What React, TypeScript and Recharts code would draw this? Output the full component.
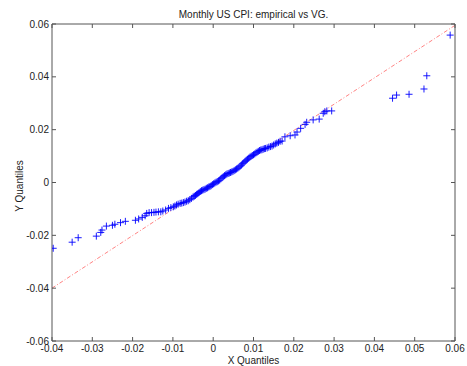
import { ScatterChart, Scatter, XAxis, YAxis, ReferenceLine } from "recharts";

// empirical quantiles (x) vs VG quantiles (y)
const QX = [
  -0.0397, -0.035, -0.0335, -0.029, -0.0279, -0.0276, -0.0265, -0.025, -0.0244, -0.023,
  -0.0218, -0.0193, -0.0185, -0.0176, -0.0169, -0.0165, -0.0159, -0.0153, -0.0147, -0.0142,
  -0.0136, -0.013, -0.0125, -0.0118, -0.0111, -0.0105, -0.0099, -0.0095, -0.0091, -0.0087,
  -0.0082, -0.0078, -0.0074, -0.007, -0.0066, -0.0062, -0.0058, -0.0054,
  -0.005, -0.0047, -0.0044, -0.0041, -0.0038, -0.0035, -0.0032, -0.0029, -0.0026, -0.0023,
  -0.002, -0.0017, -0.0014, -0.0011, -0.0008, -0.0005, -0.0002, 0.0001, 0.0004, 0.0007,
  0.001, 0.0013, 0.0016, 0.0019, 0.0022, 0.0025, 0.0028, 0.0031, 0.0034, 0.0037,
  0.004, 0.0043, 0.0046, 0.0049, 0.0052, 0.0055, 0.0058, 0.0061, 0.0064, 0.0067,
  0.007, 0.0073, 0.0076, 0.0079, 0.0082, 0.0085, 0.0088, 0.0091, 0.0094, 0.0097,
  0.01, 0.0103, 0.0106, 0.0109, 0.0112, 0.0115, 0.0118, 0.0121, 0.0124, 0.0127,
  0.013, 0.0134, 0.0138, 0.0142, 0.0146, 0.015, 0.0154, 0.0158, 0.0162, 0.0166,
  0.0171, 0.0178, 0.0191, 0.0203, 0.0208, 0.0217, 0.0228, 0.0232, 0.0248, 0.0263,
  0.0273, 0.0277, 0.0282, 0.0294, 0.0445, 0.0455, 0.0486, 0.0523, 0.053, 0.0588,
];
const QY = [
  -0.0249, -0.0226, -0.0209, -0.0203, -0.0189, -0.018, -0.0165, -0.0162, -0.0158, -0.0152,
  -0.0147, -0.0143, -0.0138, -0.0132, -0.0126, -0.0117, -0.0114, -0.0114, -0.0113, -0.0112,
  -0.0111, -0.0111, -0.0108, -0.0104, -0.0098, -0.0095, -0.0092, -0.0089, -0.0085, -0.0082,
  -0.0079, -0.0078, -0.0076, -0.0074, -0.0071, -0.0069, -0.0065, -0.006,
  -0.0055, -0.0052, -0.0049, -0.0045, -0.0042, -0.0038, -0.0034, -0.0031, -0.0029, -0.0027,
  -0.0025, -0.0022, -0.002, -0.0017, -0.0015, -0.0012, -0.0008, -0.0005, -0.0002, 0.0001,
  0.0003, 0.0006, 0.0009, 0.0014, 0.0018, 0.0022, 0.0026, 0.0029, 0.0032, 0.0034,
  0.0036, 0.0038, 0.004, 0.0042, 0.0045, 0.0048, 0.0051, 0.0054, 0.0058, 0.0062,
  0.0066, 0.0071, 0.0075, 0.008, 0.0084, 0.0088, 0.0092, 0.0096, 0.0099, 0.0102,
  0.0105, 0.0108, 0.0112, 0.0115, 0.0118, 0.0121, 0.0123, 0.0124, 0.0126, 0.0128,
  0.0129, 0.0131, 0.0134, 0.0136, 0.0138, 0.0142, 0.0146, 0.0149, 0.0152, 0.0156,
  0.0157, 0.0173, 0.0177, 0.018, 0.0191, 0.0205, 0.022, 0.0228, 0.0237, 0.024,
  0.0262, 0.0268, 0.0271, 0.0271, 0.0319, 0.0331, 0.0334, 0.0354, 0.0404, 0.0558,
];

// dash-dot reference line endpoints
const REF_X = [-0.04, 0.06];
const REF_Y = [-0.04, 0.0595];

const X_TICKS = [-0.04, -0.03, -0.02, -0.01, 0, 0.01, 0.02, 0.03, 0.04, 0.05, 0.06];
const Y_TICKS = [-0.06, -0.04, -0.02, 0, 0.02, 0.04, 0.06];

const points = QX.map((x, i) => ({ x, y: QY[i] }));

const AXIS = "#555";
const FONT = "'Liberation Sans', Arial, sans-serif";
const fmt = (v: number) => (v === 0 ? "0" : v.toFixed(2));

const BottomTick = ({ x, y, payload }: any) => (
  <g>
    <line x1={x} y1={y} x2={x} y2={y - 4} stroke={AXIS} />
    <text x={x} y={y + 11} textAnchor="middle" fontSize={10} fontFamily={FONT} fill="#222">
      {fmt(payload.value)}
    </text>
  </g>
);
const TopTick = ({ x, y }: any) => <line x1={x} y1={y} x2={x} y2={y + 4} stroke={AXIS} />;
const LeftTick = ({ x, y, payload }: any) => (
  <g>
    <line x1={x} y1={y} x2={x + 4} y2={y} stroke={AXIS} />
    <text x={x - 3} y={y + 3.5} textAnchor="end" fontSize={10} fontFamily={FONT} fill="#222">
      {fmt(payload.value)}
    </text>
  </g>
);
const RightTick = ({ x, y }: any) => <line x1={x} y1={y} x2={x - 4} y2={y} stroke={AXIS} />;

const Plus = (p: any) => (
  <g stroke="#0000ff" strokeWidth={0.9}>
    <line x1={p.cx - 3.5} y1={p.cy} x2={p.cx + 3.5} y2={p.cy} />
    <line x1={p.cx} y1={p.cy - 3.5} x2={p.cx} y2={p.cy + 3.5} />
  </g>
);

const label = { position: "absolute" as const, fontFamily: FONT, fontSize: 10, lineHeight: "12px", color: "#222", whiteSpace: "nowrap" as const };

export default function App() {
  return (
    <div style={{ position: "absolute", left: 0, top: 0, width: 467, height: 366, background: "#fff" }}>
      <ScatterChart width={467} height={366} margin={{ top: 23, right: 11, bottom: 0, left: 0 }}>
        <XAxis xAxisId="b" type="number" dataKey="x" domain={[-0.04, 0.06]} allowDataOverflow ticks={X_TICKS}
          height={25} tickSize={0} tickMargin={0} tickLine={false} axisLine={{ stroke: AXIS }} tick={BottomTick} interval={0} />
        <XAxis xAxisId="t" orientation="top" type="number" dataKey="x" domain={[-0.04, 0.06]} allowDataOverflow ticks={X_TICKS}
          height={1} tickSize={0} tickMargin={0} tickLine={false} axisLine={{ stroke: AXIS }} tick={TopTick} interval={0} />
        <YAxis yAxisId="l" type="number" dataKey="y" domain={[-0.06, 0.06]} allowDataOverflow ticks={Y_TICKS}
          width={52} tickSize={0} tickMargin={0} tickLine={false} axisLine={{ stroke: AXIS }} tick={LeftTick} interval={0} />
        <YAxis yAxisId="r" orientation="right" type="number" dataKey="y" domain={[-0.06, 0.06]} allowDataOverflow ticks={Y_TICKS}
          width={1} tickSize={0} tickMargin={0} tickLine={false} axisLine={{ stroke: AXIS }} tick={RightTick} interval={0} />
        <ReferenceLine xAxisId="b" yAxisId="l" ifOverflow="visible"
          segment={[{ x: REF_X[0], y: REF_Y[0] }, { x: REF_X[1], y: REF_Y[1] }]}
          stroke="#ff0000" strokeOpacity={0.55} strokeWidth={0.9} strokeDasharray="4 2 1 2" />
        <Scatter xAxisId="b" yAxisId="l" data={points} shape={Plus} isAnimationActive={false} />
      </ScatterChart>
      <div style={{ ...label, left: 0, width: 507, top: 9, textAlign: "center" }}>Monthly US CPI: empirical vs VG.</div>
      <div style={{ ...label, left: 0, width: 507, top: 355, textAlign: "center" }}>X Quantiles</div>
      <div style={{ ...label, left: 20, top: 186, transform: "translate(-50%, -50%) rotate(-90deg)" }}>Y Quantiles</div>
    </div>
  );
}
